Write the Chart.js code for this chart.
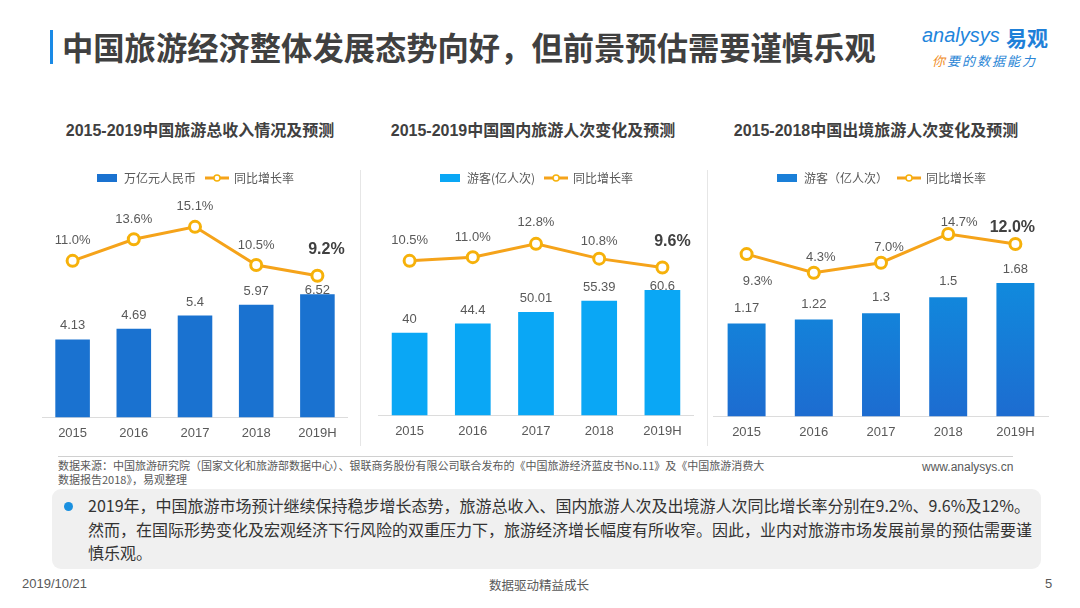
<!DOCTYPE html>
<html>
<head>
<meta charset="utf-8">
<script src="https://cdn.jsdelivr.net/npm/chart.js@4/dist/chart.umd.min.js"></script>
<style>
  html, body { margin:0; padding:0; background:#fff; }
  body { width:1080px; height:608px; position:relative; overflow:hidden;
         font-family:"Liberation Sans","Noto Sans CJK SC",sans-serif; color:#595959; }
  .abs { position:absolute; white-space:nowrap; }
  #titlebar { left:50px; top:30px; width:3px; height:34px; background:#1a8ae6; }
  #title { left:62px; top:26px; font-size:31.3px; font-weight:bold; color:#404040; line-height:42px;
           font-family:"Noto Sans CJK SC",sans-serif; }
  .ctitle { top:120px; font-size:16px; font-weight:bold; color:#404040; line-height:22px;
            font-family:"Liberation Sans","Noto Sans CJK SC",sans-serif; text-align:center; }
  .vsep { top:170px; width:1px; height:276px; background:#e6e6e6; }
  canvas { position:absolute; }
  #srcline { left:58px; top:456px; width:955px; height:0; border-top:1px solid #d0d0d0; }
  #src { left:58px; top:458px; font-size:11px; line-height:14px; color:#595959;
         font-family:"Noto Sans CJK SC",sans-serif; }
  #web { left:922px; top:460px; font-size:12px; color:#595959; }
  #box { left:52px; top:489px; width:989px; height:80px; background:#f0f0f0; border-radius:9px; }
  #dot { left:64px; top:502px; width:9px; height:9px; border-radius:50%; background:#1a90e0; }
  #txt { left:88px; top:494px; font-size:16px; line-height:23.5px; color:#333;
         font-family:"Noto Sans CJK SC",sans-serif; }
  #fdate { left:22px; top:576px; font-size:13px; color:#595959; }
  #fmid { left:489px; top:575px; font-size:12.5px; color:#595959; font-family:"Noto Sans CJK SC",sans-serif; }
  #fnum { left:1045px; top:576px; font-size:13px; color:#595959; }
  #logo1 { left:922px; top:24px; font-size:20px; color:#1f86dc; font-style:italic; }
  #logo2 { left:1006px; top:22px; font-size:21px; font-weight:bold; color:#1f80d8; font-family:"Noto Sans CJK SC",sans-serif; }
  #logo3 { left:932px; top:51px; font-size:13px; color:#2a86d6; font-style:italic; font-family:"Noto Sans CJK SC",sans-serif; letter-spacing:2px; }
</style>
</head>
<body>
<div class="abs" id="titlebar"></div>
<div class="abs" id="title">中国旅游经济整体发展态势向好，但前景预估需要谨慎乐观</div>
<div class="abs" id="logo1">analysys</div>
<div class="abs" id="logo2">易观</div>
<div class="abs" id="logo3"><span style="color:#f08c1e">你</span>要的数据能力</div>

<div class="abs ctitle" style="left:30px;width:340px;">2015-2019中国旅游总收入情况及预测</div>
<div class="abs ctitle" style="left:363px;width:340px;">2015-2019中国国内旅游人次变化及预测</div>
<div class="abs ctitle" style="left:706px;width:340px;">2015-2018中国出境旅游人次变化及预测</div>
<div class="abs vsep" style="left:360px;"></div>
<div class="abs vsep" style="left:707px;"></div>

<canvas id="c1" width="306" height="287" style="left:42px;top:162px;"></canvas>
<canvas id="c2" width="316" height="285" style="left:378px;top:162px;"></canvas>
<canvas id="c3" width="336" height="286" style="left:713px;top:162px;"></canvas>

<div class="abs" id="srcline"></div>
<div class="abs" id="src">数据来源：中国旅游研究院（国家文化和旅游部数据中心）、银联商务股份有限公司联合发布的《中国旅游经济蓝皮书No.11》及《中国旅游消费大<br>数据报告2018》，易观整理</div>
<div class="abs" id="web">www.analysys.cn</div>
<div class="abs" id="box"></div>
<div class="abs" id="dot"></div>
<div class="abs" id="txt">2019年，中国旅游市场预计继续保持稳步增长态势，旅游总收入、国内旅游人次及出境游人次同比增长率分别在9.2%、9.6%及12%。<br>然而，在国际形势变化及宏观经济下行风险的双重压力下，旅游经济增长幅度有所收窄。因此，业内对旅游市场发展前景的预估需要谨<br>慎乐观。</div>
<div class="abs" id="fdate">2019/10/21</div>
<div class="abs" id="fmid">数据驱动精益成长</div>
<div class="abs" id="fnum">5</div>

<script>
// ---- data ----
const years = ['2015', '2016', '2017', '2018', '2019H'];
const revenue = [4.13, 4.69, 5.4, 5.97, 6.52];
const revenueGrowth = [11.0, 13.6, 15.1, 10.5, 9.2];
const domestic = [40, 44.4, 50.01, 55.39, 60.6];
const domesticGrowth = [10.5, 11.0, 12.8, 10.8, 9.6];
const outbound = [1.17, 1.22, 1.3, 1.5, 1.68];
const outboundGrowth = [9.3, 4.3, 7.0, 14.7, 12.0];
const barNames = ['万亿元人民币', '游客(亿人次)', '游客（亿人次）'];
const lineName = '同比增长率';

// ---- styles ----
const LINE = '#f5a31a', POINT = '#f6b10a';
function legendBarImg(color) {
  const c = document.createElement('canvas'); c.width = 20; c.height = 8;
  const x = c.getContext('2d'); x.fillStyle = color; x.fillRect(0, 0, 20, 8); return c;
}
function legendLineImg() {
  const c = document.createElement('canvas'); c.width = 24; c.height = 10;
  const x = c.getContext('2d');
  x.strokeStyle = LINE; x.lineWidth = 3; x.beginPath(); x.moveTo(0, 5); x.lineTo(24, 5); x.stroke();
  x.fillStyle = '#fff'; x.strokeStyle = POINT; x.lineWidth = 1.5;
  x.beginPath(); x.arc(12, 5, 3, 0, Math.PI * 2); x.fill(); x.stroke();
  return c;
}

const labelPlugin = {
  id: 'valueLabels',
  afterDatasetsDraw(chart, args, opts) {
    const ctx = chart.ctx;
    ctx.save();
    ctx.textAlign = 'center'; ctx.textBaseline = 'middle';
    const bm = chart.getDatasetMeta(0), lm = chart.getDatasetMeta(1);
    const bd = chart.data.datasets[0].data, ld = chart.data.datasets[1].data;
    bm.data.forEach((el, i) => {
      ctx.font = '13px "Liberation Sans", sans-serif'; ctx.fillStyle = '#595959';
      ctx.fillText(String(bd[i]), el.x, el.y - opts.barOff[i]);
    });
    lm.data.forEach((el, i) => {
      const last = i === ld.length - 1;
      const o = opts.lineOff[i];
      ctx.font = last ? 'bold 16px "Liberation Sans", sans-serif' : '13px "Liberation Sans", sans-serif';
      ctx.fillStyle = last ? '#404040' : '#595959';
      ctx.fillText(ld[i].toFixed(1) + '%', el.x + o[0], el.y + o[1]);
    });
    ctx.restore();
  }
};

function makeChart(id, bars, growth, barName, barColor, legendColor, y0max, y1min, y1max, barOff, lineOff) {
  return new Chart(document.getElementById(id), {
    type: 'bar',
    data: {
      labels: years,
      datasets: [
        { type: 'bar', label: barName, data: bars, backgroundColor: barColor, yAxisID: 'y',
          categoryPercentage: 1, barPercentage: 0.565, order: 2 },
        { type: 'line', label: lineName, data: growth, yAxisID: 'y1', borderColor: LINE, borderWidth: 3,
          pointRadius: 5.5, pointBorderWidth: 3, pointBackgroundColor: '#fff', pointBorderColor: POINT,
          tension: 0, order: 1, clip: false }
      ]
    },
    options: {
      responsive: false, animation: false, devicePixelRatio: 1,
      layout: { padding: 0, autoPadding: false },
      plugins: {
        tooltip: { enabled: false },
        legend: {
          position: 'top',
          labels: {
            usePointStyle: true, pointStyleWidth: 22, padding: 10, color: '#595959',
            font: { size: 12, family: '"Noto Sans CJK SC", sans-serif' },
            generateLabels: (ch) => [
              { text: barName, pointStyle: legendBarImg(legendColor), datasetIndex: 0, fontColor: '#595959', lineWidth: 0 },
              { text: lineName, pointStyle: legendLineImg(), datasetIndex: 1, fontColor: '#595959', lineWidth: 0 }
            ]
          }
        },
        valueLabels: { barOff, lineOff }
      },
      scales: {
        x: {
          grid: { display: false, drawTicks: false },
          border: { display: true, color: '#dcdcdc', width: 1 },
          ticks: { padding: 8, color: '#595959', font: { size: 13, family: '"Liberation Sans", sans-serif' } }
        },
        y: { display: false, min: 0, max: y0max },
        y1: { display: false, min: y1min, max: y1max, position: 'right' }
      }
    },
    plugins: [labelPlugin]
  });
}

makeChart('c1', revenue, revenueGrowth, barNames[0], '#1a72d0', '#1a72d0',
  11.83, -7.88, 19.06,
  [13.5, 13.5, 13.5, 13.5, 4],
  [[0, -20], [0, -20], [0, -20], [0, -20], [9, -26]]);

makeChart('c2', domestic, domesticGrowth, barNames[1], '#0aa7f5', '#0aa7f5',
  107, -10.4, 19.54,
  [13.5, 13.5, 13.5, 13.5, 4],
  [[0, -20], [0, -20], [0, -21], [0, -17], [10, -25.6]]);

makeChart('c3', outbound, outboundGrowth, barNames[2], (ctx) => {
  const a = ctx.chart.chartArea;
  if (!a) return '#148ad9';
  const g = ctx.chart.ctx.createLinearGradient(0, a.top, 0, a.bottom);
  g.addColorStop(0, '#089ee6'); g.addColorStop(1, '#1d6cd0');
  return g;
}, '#1a7fd8', 2.80, -34.25, 25.43,
  [15.5, 15.5, 15.5, 15.5, 14],
  [[11, 27], [7, -15.5], [8, -15.5], [11, -12], [-3, -16.5]]);
</script>
</body>
</html>
